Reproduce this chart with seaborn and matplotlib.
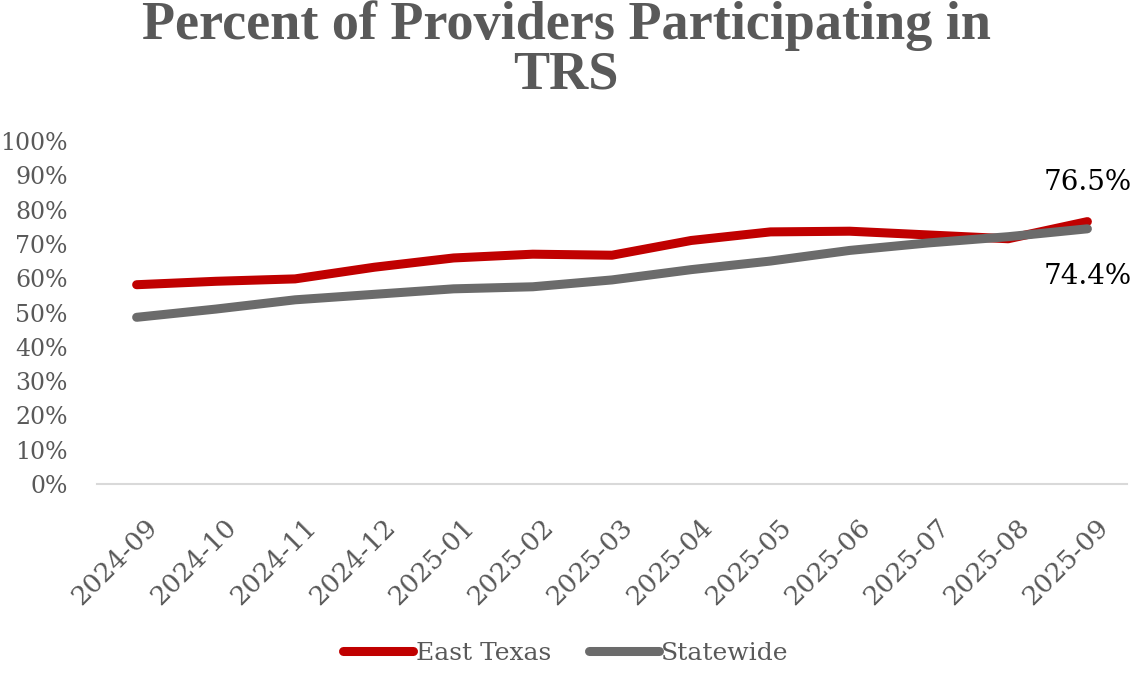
import pandas as pd
import seaborn as sns
import matplotlib.pyplot as plt
import matplotlib.transforms as mtransforms

# months on the category axis
months = ['2024-09', '2024-10', '2024-11', '2024-12', '2025-01', '2025-02', '2025-03',
          '2025-04', '2025-05', '2025-06', '2025-07', '2025-08', '2025-09']

# percent of providers participating
east_texas = [58.1, 59.1, 59.8, 63.2, 65.9, 67.0, 66.7, 71.0, 73.5, 73.7, 72.6, 71.5, 76.5]
statewide = [48.6, 51.0, 53.7, 55.3, 56.9, 57.5, 59.5, 62.5, 65.0, 68.1, 70.3, 72.1, 74.4]

series_names = ['East Texas', 'Statewide']
colors = {'East Texas': '#C00000', 'Statewide': '#6B6B6B'}

df = pd.DataFrame({
    'month': months * 2,
    'pct': east_texas + statewide,
    'series': [series_names[0]] * len(months) + [series_names[1]] * len(months),
})

sns.set_theme(style='white')
plt.rcParams['font.family'] = ['DejaVu Serif']

fig = plt.figure(figsize=(11.32, 6.73), dpi=100)
ax = fig.add_axes([0.0857, 0.2808, 0.9099, 0.5097])

sns.lineplot(data=df, x='month', y='pct', hue='series', palette=colors,
             linewidth=6.5, sort=False, ax=ax, legend=True)
for ln in ax.get_lines():
    ln.set_solid_capstyle('round')

ax.set_xlim(-0.5, len(months) - 0.5)
ax.set_ylim(0, 100)
ax.set_yticks(range(0, 101, 10))
ax.set_yticklabels([f'{v}%' for v in range(0, 101, 10)])
ax.set_xlabel('')
ax.set_ylabel('')

for s in ['top', 'right', 'left']:
    ax.spines[s].set_visible(False)
ax.spines['bottom'].set_color('#D9D9D9')
ax.spines['bottom'].set_linewidth(1.5)

ax.tick_params(axis='y', length=0, pad=21, labelsize=17, labelcolor='#595959')
ax.tick_params(axis='x', length=0, pad=22, labelsize=19, labelcolor='#595959')

offset = mtransforms.ScaledTranslation(8 / 100, 0, fig.dpi_scale_trans)
for lab in ax.get_xticklabels():
    lab.set_rotation(45)
    lab.set_ha('right')
    lab.set_va('top')
    lab.set_rotation_mode('anchor')
    lab.set_transform(lab.get_transform() + offset)

# end labels
last = len(months) - 1
ax.annotate(f'{east_texas[-1]}%', (last, east_texas[-1]), xytext=(0, 28),
            textcoords='offset points', ha='center', va='center', fontsize=20, color='black')
ax.annotate(f'{statewide[-1]}%', (last, statewide[-1]), xytext=(0, -34),
            textcoords='offset points', ha='center', va='center', fontsize=20, color='black')

handles, labels = ax.get_legend_handles_labels()
for h in handles:
    h.set_solid_capstyle('round')
ax.legend(handles, labels, loc='center', bbox_to_anchor=(0.5, 20 / 673),
          bbox_transform=fig.transFigure, ncol=2, frameon=False, fontsize=18,
          handlelength=2.8, handletextpad=0.1, columnspacing=1.5, labelcolor='#595959')

fig.text(0.5, 1.0, 'Percent of Providers Participating in\nTRS', ha='center', va='top',
         fontsize=39, fontweight='bold', color='#595959', family=['Liberation Serif'],
         linespacing=1.0)

fig.savefig('out.png', dpi=100)
